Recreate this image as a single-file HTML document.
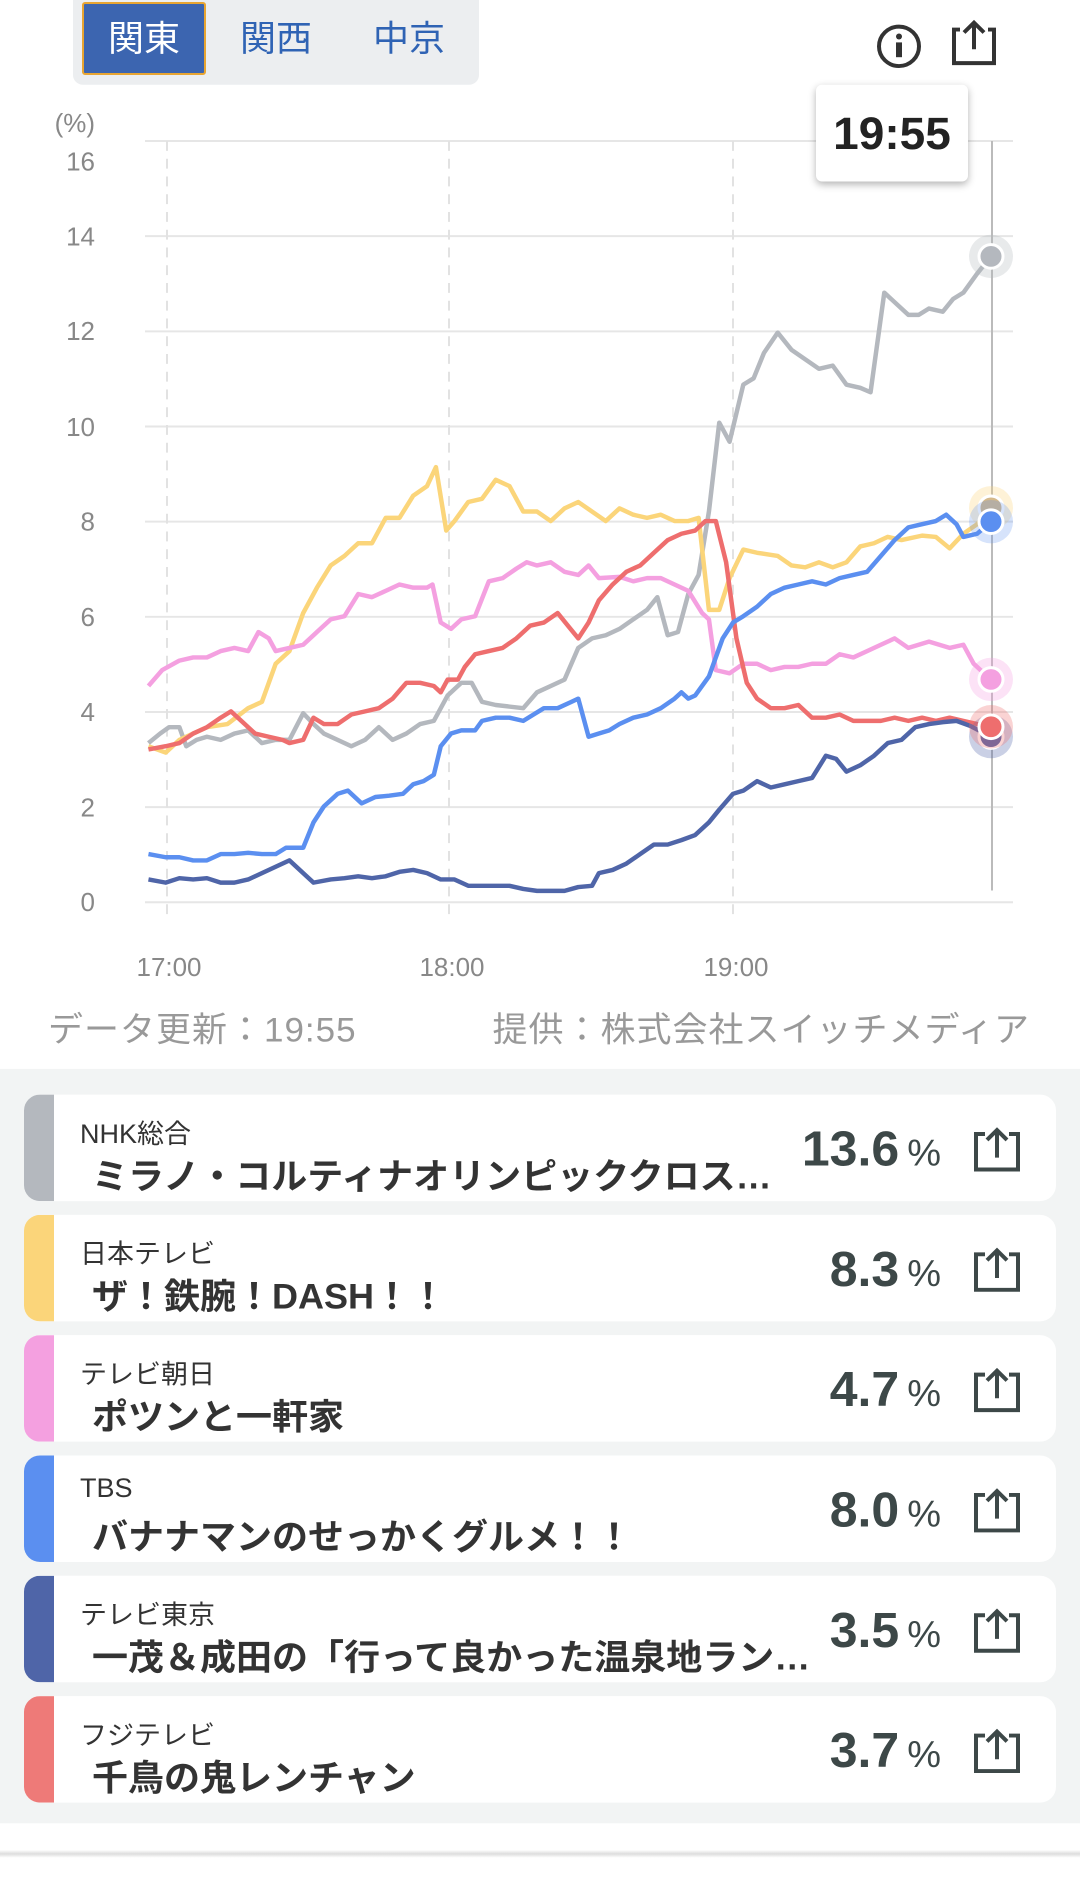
<!DOCTYPE html>
<html><head><meta charset="utf-8"><style>
*{margin:0;padding:0;box-sizing:border-box}
body{width:1080px;height:1896px;background:#fff;position:relative;overflow:hidden;font-family:"Liberation Sans","Noto Sans CJK JP",sans-serif}
#w{position:absolute;left:0;top:0;width:1080px;height:1923px;transform:scaleY(0.9861);transform-origin:0 0}
.abs{position:absolute}
.tabs{left:73px;top:0;width:406px;height:86px;background:#eceef0;border-radius:0 0 10px 10px}
.tab{top:2px;height:74px;width:124px;font-size:36px;color:#2f63b4;text-align:center;line-height:74px}
.act{left:82px;background:#3c65b0;color:#fff;border:2px solid #e8a532;border-radius:3px;line-height:70px}
.foot{top:1016px;font-size:35px;color:#999}
.gray{left:0;top:1084px;width:1080px;height:765px;background:#f2f4f4}
.card{left:24px;width:1032px;height:108px;background:#fff;border-radius:16px;overflow:hidden}
.bar{left:0;top:0;width:30px;height:108px}
.ch{left:56px;top:18px;font-size:27px;color:#333}
.pg{left:68px;top:54px;font-size:36px;font-weight:bold;color:#333;white-space:nowrap}
.pc{right:115px;top:26px;font-size:50px;font-weight:bold;color:#3d4848}
.pc span{font-size:38px;font-weight:normal;margin-left:8px}
.sh{right:34px;top:32px}
</style></head><body><div id="w">
<div class="abs tabs"></div>
<div class="abs tab act">関東</div>
<div class="abs tab" style="left:214px">関西</div>
<div class="abs tab" style="left:347px">中京</div>
<svg class="abs" style="left:0;top:0" width="1080" height="1000">
<circle cx="899" cy="47" r="20" fill="none" stroke="#333" stroke-width="4"/>
<circle cx="899" cy="37" r="3" fill="#333"/><rect x="896" y="43" width="6" height="15" fill="#333"/>
<path d="M960 30 h-6 v34 h40 v-34 h-6" fill="none" stroke="#333" stroke-width="4"/>
<path d="M974 50 V24 M964 33 L974 23 L984 33" fill="none" stroke="#333" stroke-width="4"/>
<g stroke="#e6e6e6" stroke-width="2">
<line x1="145" x2="1013" y1="143" y2="143"/><line x1="145" x2="1013" y1="239.5" y2="239.5"/>
<line x1="145" x2="1013" y1="336" y2="336"/><line x1="145" x2="1013" y1="432.5" y2="432.5"/>
<line x1="145" x2="1013" y1="529" y2="529"/><line x1="145" x2="1013" y1="625.5" y2="625.5"/>
<line x1="145" x2="1013" y1="722" y2="722"/><line x1="145" x2="1013" y1="818.5" y2="818.5"/>
<line x1="145" x2="1013" y1="915" y2="915"/>
</g>
<g stroke="#e2e2e2" stroke-width="2" stroke-dasharray="10,8">
<line x1="167" x2="167" y1="143" y2="930"/><line x1="449" x2="449" y1="143" y2="930"/><line x1="733" x2="733" y1="143" y2="930"/>
</g>
<line x1="992" x2="992" y1="143" y2="903" stroke="#bbb" stroke-width="2"/>
<g font-size="26" fill="#888" text-anchor="end">
<text x="95" y="134">(%)</text><text x="95" y="173">16</text><text x="95" y="249">14</text><text x="95" y="345">12</text>
<text x="95" y="442">10</text><text x="95" y="538">8</text><text x="95" y="635">6</text><text x="95" y="731">4</text>
<text x="95" y="828">2</text><text x="95" y="924">0</text>
</g>
<g font-size="26" fill="#888" text-anchor="middle"><text x="169" y="990">17:00</text><text x="452" y="990">18:00</text><text x="736" y="990">19:00</text></g>
<g transform="translate(0.6,4.1) scale(0.6877,0.6433)" fill="none" stroke-width="4.5" stroke-linejoin="round">
<polyline vector-effect="non-scaling-stroke" stroke="#b4b8be" points="215,1165 232,1150 245,1140 260,1140 270,1170 285,1160 300,1155 320,1160 340,1150 360,1145 380,1165 400,1160 420,1160 440,1118 455,1135 470,1150 490,1160 510,1170 530,1160 550,1140 570,1160 590,1150 610,1135 630,1130 650,1090 670,1070 685,1070 700,1100 720,1105 760,1110 780,1085 800,1075 820,1065 840,1015 860,1000 880,995 900,985 920,970 940,955 955,935 970,995 985,990 1000,930 1015,900 1030,800 1045,660 1060,690 1080,600 1095,590 1110,550 1130,518 1150,545 1170,560 1190,575 1210,570 1230,600 1250,605 1265,612 1285,455 1300,470 1320,490 1335,490 1350,480 1370,485 1385,465 1400,455 1420,425 1440,398"/>
<polyline vector-effect="non-scaling-stroke" stroke="#fbd57a" points="215,1170 240,1180 260,1160 280,1150 300,1140 330,1135 360,1110 380,1100 400,1040 420,1020 440,960 460,920 480,885 500,870 520,850 540,850 560,810 580,810 600,775 620,760 633,730 648,830 660,815 680,785 700,780 720,750 740,760 760,800 780,800 800,815 820,795 840,785 860,800 880,815 900,795 920,805 940,810 960,805 980,815 1000,815 1015,810 1030,955 1045,955 1060,905 1080,860 1100,865 1130,870 1150,885 1170,888 1190,880 1210,888 1230,880 1250,855 1270,850 1290,840 1310,845 1340,838 1360,840 1380,858 1400,835 1420,820 1440,795"/>
<polyline vector-effect="non-scaling-stroke" stroke="#f4a0e0" points="215,1075 235,1050 260,1035 280,1030 300,1030 320,1020 340,1015 360,1020 375,990 390,1000 400,1020 420,1015 440,1010 460,990 480,970 500,965 520,930 540,935 560,925 580,915 600,920 620,920 628,915 640,975 655,985 670,970 690,965 710,910 730,905 750,890 765,880 780,885 800,880 820,895 840,900 855,885 870,905 900,903 920,910 940,905 960,905 980,915 1000,925 1020,960 1030,970 1040,1050 1060,1055 1080,1040 1100,1040 1120,1050 1140,1045 1160,1045 1180,1040 1200,1040 1220,1025 1240,1030 1260,1020 1280,1010 1300,1000 1320,1015 1350,1005 1380,1015 1400,1010 1415,1040 1440,1065"/>
<polyline vector-effect="non-scaling-stroke" stroke="#ee6e6e" points="215,1175 240,1170 260,1165 280,1150 300,1140 320,1125 335,1115 350,1130 370,1150 390,1155 410,1160 420,1165 440,1160 455,1125 470,1135 490,1135 510,1120 530,1115 550,1110 570,1095 590,1070 610,1070 630,1075 640,1085 650,1065 665,1065 675,1045 690,1025 710,1020 730,1015 750,1000 770,980 790,975 810,960 825,980 840,1000 855,975 870,940 890,915 910,895 930,885 950,865 970,845 990,835 1010,830 1025,815 1040,815 1055,880 1070,1000 1085,1070 1100,1095 1120,1110 1140,1110 1160,1105 1180,1125 1200,1125 1220,1120 1240,1130 1260,1130 1280,1130 1300,1125 1320,1130 1340,1125 1360,1130 1380,1125 1400,1130 1420,1135 1440,1140"/>
<polyline vector-effect="non-scaling-stroke" stroke="#5b8ff0" points="215,1340 240,1345 260,1345 280,1350 300,1350 320,1340 340,1340 360,1338 380,1340 400,1340 415,1330 440,1330 455,1290 470,1265 490,1245 505,1240 525,1260 545,1250 565,1248 585,1245 600,1230 615,1225 630,1215 640,1170 655,1150 670,1145 690,1145 700,1130 720,1125 740,1125 760,1130 775,1120 790,1110 810,1110 830,1100 840,1095 855,1155 870,1150 885,1145 900,1135 920,1125 940,1120 960,1110 980,1095 990,1085 1000,1095 1010,1090 1030,1060 1050,1000 1065,975 1080,965 1100,950 1120,930 1140,920 1160,915 1180,910 1200,915 1220,905 1240,900 1260,895 1280,870 1300,845 1320,825 1340,820 1360,815 1375,805 1390,820 1400,840 1420,835 1440,816"/>
<polyline vector-effect="non-scaling-stroke" stroke="#4f65a8" points="215,1380 240,1385 260,1378 280,1380 300,1378 320,1385 340,1385 360,1380 380,1370 400,1360 420,1350 440,1370 455,1385 480,1380 500,1378 520,1375 540,1378 560,1375 580,1368 600,1365 620,1370 640,1380 660,1380 680,1390 700,1390 720,1390 740,1390 760,1395 780,1398 800,1398 820,1398 840,1392 860,1390 870,1370 890,1365 910,1355 930,1340 950,1325 970,1325 990,1318 1010,1310 1030,1290 1045,1270 1065,1245 1080,1240 1100,1225 1120,1235 1140,1230 1160,1225 1180,1220 1200,1185 1215,1190 1230,1210 1250,1200 1270,1185 1290,1165 1310,1160 1330,1140 1350,1135 1370,1132 1390,1130 1410,1138 1440,1155"/>
</g>
<g>
<circle cx="991" cy="260" r="22" fill="#b4b8be" opacity=".3"/><circle cx="991" cy="260" r="12" fill="#b4b8be" stroke="#fff" stroke-width="3"/>
<circle cx="991" cy="515" r="22" fill="#fbd57a" opacity=".3"/><circle cx="991" cy="515" r="12" fill="#d5b98a" stroke="#fff" stroke-width="3"/>
<circle cx="991" cy="529" r="22" fill="#5b8ff0" opacity=".25"/><circle cx="991" cy="529" r="12" fill="#5b8ff0" stroke="#fff" stroke-width="3"/>
<circle cx="991" cy="689" r="22" fill="#f4a0e0" opacity=".3"/><circle cx="991" cy="689" r="12" fill="#f4a0e0" stroke="#fff" stroke-width="3"/>
<circle cx="991" cy="747" r="22" fill="#4f65a8" opacity=".3"/><circle cx="991" cy="747" r="12" fill="#4f65a8" stroke="#fff" stroke-width="3"/>
<circle cx="991" cy="737" r="22" fill="#ee6e6e" opacity=".3"/><circle cx="991" cy="737" r="12" fill="#ee6e6e" stroke="#fff" stroke-width="3"/>
</g>
</svg>
<div class="abs" style="left:816px;top:86px;width:152px;height:98px;background:#fff;border-radius:6px;box-shadow:0 3px 8px rgba(0,0,0,.3);font-size:46px;font-weight:bold;color:#222;text-align:center;line-height:98px">19:55</div>
<div class="abs foot" style="left:48px;letter-spacing:1px">データ更新：19:55</div>
<div class="abs foot" style="right:50px;letter-spacing:1px">提供：株式会社スイッチメディア</div>
<div class="abs gray"></div>
<div class="abs" style="left:0;top:1876px;width:1080px;height:8px;background:linear-gradient(#fff,#ddd,#fff)"></div>

<div class="abs card" style="top:1110px"><div class="abs bar" style="background:#b4b8be"></div><div class="abs ch">NHK総合</div><div class="abs pg">ミラノ・コルティナオリンピッククロス…</div><div class="abs pc">13.6<span>%</span></div><svg class="abs sh" width="50" height="48"><path d="M13 8h-9v36h42v-36h-9" fill="none" stroke="#3d4848" stroke-width="4"/><path d="M25 32V4M15 14L25 4L35 14" fill="none" stroke="#3d4848" stroke-width="4"/></svg></div>
<div class="abs card" style="top:1232px"><div class="abs bar" style="background:#fbd57a"></div><div class="abs ch">日本テレビ</div><div class="abs pg">ザ！鉄腕！DASH！！</div><div class="abs pc">8.3<span>%</span></div><svg class="abs sh" width="50" height="48"><path d="M13 8h-9v36h42v-36h-9" fill="none" stroke="#3d4848" stroke-width="4"/><path d="M25 32V4M15 14L25 4L35 14" fill="none" stroke="#3d4848" stroke-width="4"/></svg></div>
<div class="abs card" style="top:1354px"><div class="abs bar" style="background:#f4a0e0"></div><div class="abs ch">テレビ朝日</div><div class="abs pg">ポツンと一軒家</div><div class="abs pc">4.7<span>%</span></div><svg class="abs sh" width="50" height="48"><path d="M13 8h-9v36h42v-36h-9" fill="none" stroke="#3d4848" stroke-width="4"/><path d="M25 32V4M15 14L25 4L35 14" fill="none" stroke="#3d4848" stroke-width="4"/></svg></div>
<div class="abs card" style="top:1476px"><div class="abs bar" style="background:#5b8ff0"></div><div class="abs ch">TBS</div><div class="abs pg">バナナマンのせっかくグルメ！！</div><div class="abs pc">8.0<span>%</span></div><svg class="abs sh" width="50" height="48"><path d="M13 8h-9v36h42v-36h-9" fill="none" stroke="#3d4848" stroke-width="4"/><path d="M25 32V4M15 14L25 4L35 14" fill="none" stroke="#3d4848" stroke-width="4"/></svg></div>
<div class="abs card" style="top:1598px"><div class="abs bar" style="background:#4f65a8"></div><div class="abs ch">テレビ東京</div><div class="abs pg">一茂＆成田の「行って良かった温泉地ラン…</div><div class="abs pc">3.5<span>%</span></div><svg class="abs sh" width="50" height="48"><path d="M13 8h-9v36h42v-36h-9" fill="none" stroke="#3d4848" stroke-width="4"/><path d="M25 32V4M15 14L25 4L35 14" fill="none" stroke="#3d4848" stroke-width="4"/></svg></div>
<div class="abs card" style="top:1720px"><div class="abs bar" style="background:#ee7a78"></div><div class="abs ch">フジテレビ</div><div class="abs pg">千鳥の鬼レンチャン</div><div class="abs pc">3.7<span>%</span></div><svg class="abs sh" width="50" height="48"><path d="M13 8h-9v36h42v-36h-9" fill="none" stroke="#3d4848" stroke-width="4"/><path d="M25 32V4M15 14L25 4L35 14" fill="none" stroke="#3d4848" stroke-width="4"/></svg></div>
</div></body></html>
